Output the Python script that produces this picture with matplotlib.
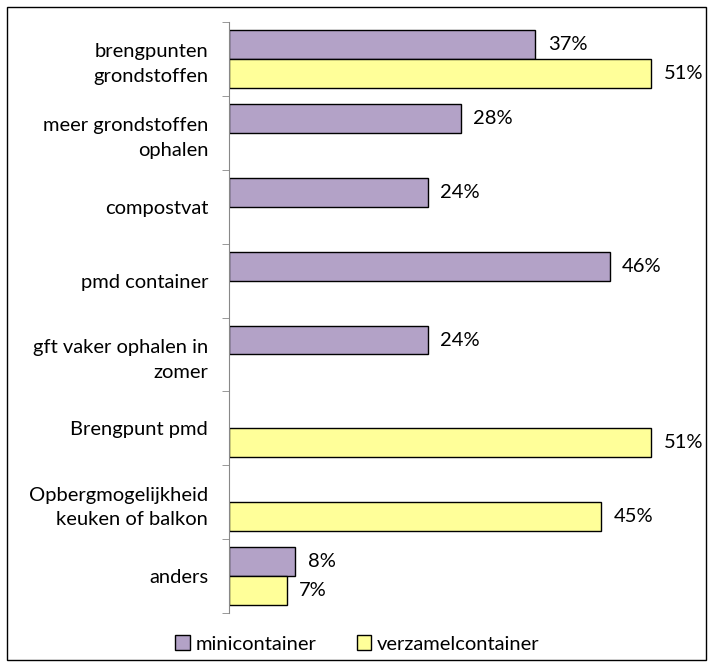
import numpy as np
from matplotlib import pyplot as plt
from matplotlib.patches import Rectangle

categories = ["brengpunten\ngrondstoffen", "meer grondstoffen\nophalen", "compostvat",
              "pmd container", "gft vaker ophalen in\nzomer", "Brengpunt pmd",
              "Opbergmogelijkheid\nkeuken of balkon", "anders"]
mini = [37, 28, 24, 46, 24, np.nan, np.nan, 8]
verzamel = [51, np.nan, np.nan, np.nan, np.nan, 51, 45, 7]
series_names = ["minicontainer", "verzamelcontainer"]

plt.rcParams['font.family'] = ['Lato', 'DejaVu Sans']
fs = 14.5

fig = plt.figure(figsize=(7.15, 6.69), dpi=100)
ax = fig.add_axes([229 / 715, 56 / 669, (690 - 229) / 715, (613 - 22) / 669])

y = np.arange(len(categories))
h = 0.39
b1 = ax.barh(y - h / 2, mini, height=h, color="#B3A2C7", edgecolor="black", linewidth=1,
             label=series_names[0])
b2 = ax.barh(y + h / 2, verzamel, height=h, color="#FFFF99", edgecolor="black", linewidth=1,
             label=series_names[1])

for bars, vals in ((b1, mini), (b2, verzamel)):
    for bar, v in zip(bars, vals):
        if np.isnan(v):
            continue
        ax.text(v + 1.5, bar.get_y() + bar.get_height() / 2, "%d%%" % v,
                va="center", ha="left", fontsize=fs)

ax.set_xlim(0, 55.7)
ax.set_ylim(len(categories) - 0.5, -0.5)
ax.set_yticks(y)
ax.set_yticklabels(categories, fontsize=fs, linespacing=1.55)
ax.set_yticks(np.arange(-0.5, len(categories)), minor=True)
ax.tick_params(axis="y", which="major", length=0, pad=15)
ax.tick_params(axis="y", which="minor", length=5, color="#888888", direction="out")
ax.set_xticks([])
for s in ("top", "right", "bottom"):
    ax.spines[s].set_visible(False)
ax.spines["left"].set_color("#888888")

fig.legend(handles=[b1, b2], labels=series_names, loc="center", bbox_to_anchor=(0.5, 1 - 644 / 669),
           ncol=2, frameon=False, fontsize=fs, handlelength=0.7, handleheight=0.7,
           handletextpad=0.3, columnspacing=2.0)

fig.patches.append(Rectangle((7 / 715, 9 / 669), 699 / 715, 653 / 669, transform=fig.transFigure,
                             fill=False, edgecolor="black", linewidth=1))

fig.savefig("out.png", dpi=100)
